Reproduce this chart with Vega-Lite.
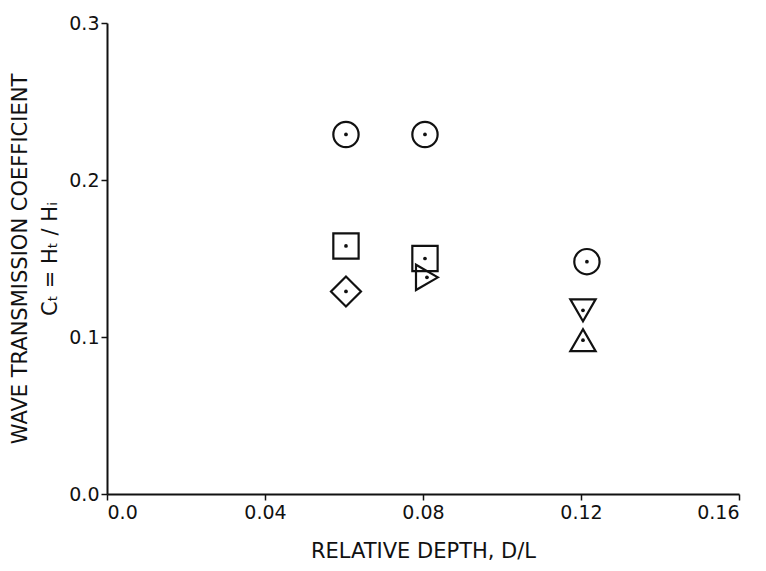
{
  "$schema": "https://vega.github.io/schema/vega-lite/v6.json",
  "width": 632,
  "height": 471,
  "autosize": {"type": "none"},
  "padding": {"left": 107, "top": 23, "right": 27, "bottom": 77},
  "background": "white",
  "config": {
    "view": {"stroke": null},
    "font": "DejaVu Sans",
    "axis": {
      "grid": false,
      "domainColor": "#111",
      "domainWidth": 2,
      "tickColor": "#111",
      "tickWidth": 1.5,
      "labelColor": "#111",
      "titleColor": "#111",
      "labelFont": "DejaVu Sans",
      "titleFont": "DejaVu Sans",
      "labelFontSize": 19,
      "titleFontSize": 19,
      "titleFontWeight": "normal"
    }
  },
  "data": {
    "values": [
      {"d": 0.0605, "ct": 0.229, "series": "A"},
      {"d": 0.0805, "ct": 0.229, "series": "A"},
      {"d": 0.1215, "ct": 0.148, "series": "A"},
      {"d": 0.0605, "ct": 0.158, "series": "B"},
      {"d": 0.0805, "ct": 0.150, "series": "B"},
      {"d": 0.0605, "ct": 0.129, "series": "C"},
      {"d": 0.081, "ct": 0.138, "series": "D"},
      {"d": 0.1205, "ct": 0.117, "series": "E"},
      {"d": 0.1205, "ct": 0.098, "series": "F"}
    ]
  },
  "encoding": {
    "x": {
      "field": "d",
      "type": "quantitative",
      "scale": {"domain": [0, 0.16], "nice": false, "zero": true},
      "axis": {
        "values": [0, 0.04, 0.08, 0.12, 0.16],
        "labelExpr": "datum.value == 0 ? '0.0' : format(datum.value, '.2f')",
        "tickSize": 6,
        "labelPadding": 3,
        "title": "RELATIVE DEPTH, D/L",
        "titleFontSize": 21,
        "titlePadding": 18
      }
    },
    "y": {
      "field": "ct",
      "type": "quantitative",
      "scale": {"domain": [0, 0.3], "nice": false},
      "axis": {
        "values": [0, 0.1, 0.2, 0.3],
        "format": ".1f",
        "tickSize": 6,
        "labelPadding": 2,
        "title": ["WAVE TRANSMISSION COEFFICIENT", "C\u209c = H\u209c / H\u1d62"],
        "titleFontSize": 21,
        "titlePadding": 8,
        "titleLineHeight": 30
      }
    }
  },
  "layer": [
    {
      "transform": [{"filter": "datum.series != 'C'"}],
      "mark": {"type": "point", "filled": false, "strokeWidth": 2.2, "color": "#111", "opacity": 1, "size": 640},
      "encoding": {
        "shape": {
          "field": "series",
          "type": "nominal",
          "scale": {
            "domain": ["A", "B", "C", "D", "E", "F"],
            "range": ["circle", "square", "diamond", "triangle-right", "triangle-down", "triangle-up"]
          },
          "legend": null
        }
      }
    },
    {
      "transform": [{"filter": "datum.series == 'C'"}],
      "mark": {"type": "point", "filled": false, "shape": "diamond", "strokeWidth": 2.2, "color": "#111", "opacity": 1, "size": 900},
      "encoding": {}
    },
    {
      "mark": {"type": "point", "filled": true, "shape": "circle", "size": 14, "color": "#111", "opacity": 1},
      "encoding": {}
    }
  ]
}
